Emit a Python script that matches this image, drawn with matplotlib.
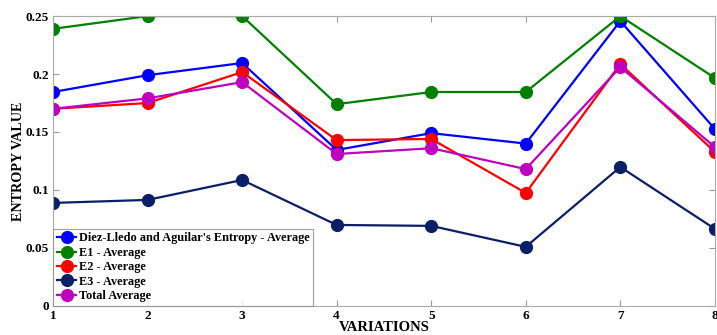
import matplotlib
matplotlib.use("Agg")
import matplotlib.pyplot as plt

variations = [1, 2, 3, 4, 5, 6, 7, 8]
diez_lledo = [0.1845, 0.199, 0.2095, 0.1345, 0.149, 0.140, 0.2457, 0.1526]
e1 = [0.239, 0.250, 0.250, 0.174, 0.1845, 0.1845, 0.250, 0.1966]
e2 = [0.170, 0.175, 0.2017, 0.143, 0.144, 0.0974, 0.2086, 0.1328]
e3 = [0.0888, 0.0914, 0.1086, 0.0698, 0.069, 0.0509, 0.1198, 0.0664]
total = [0.170, 0.179, 0.193, 0.131, 0.136, 0.118, 0.206, 0.137]

series = [
    ("Diez-Lledo and Aguilar's Entropy - Average", diez_lledo, "#0000ff"),
    ("E1 - Average", e1, "#008000"),
    ("E2 - Average", e2, "#ff0000"),
    ("E3 - Average", e3, "#0a1f66"),
    ("Total Average", total, "#c000c0"),
]

plt.rcParams["font.family"] = ["Liberation Serif", "DejaVu Serif"]
plt.rcParams["font.weight"] = "bold"

fig = plt.figure(figsize=(7.17, 3.35), dpi=100)
ax = fig.add_axes([0.074, 0.087, 0.923, 0.865])

for label, vals, col in series:
    ax.plot(variations, vals, "-o", color=col, lw=1.6, ms=8.5, label=label)

ax.set_xlim(1, 8)
ax.set_ylim(0, 0.25)
ax.set_xticks(variations)
ax.set_yticks([0, 0.05, 0.1, 0.15, 0.2, 0.25])
ax.set_yticklabels(["0", "0.05", "0.1", "0.15", "0.2", "0.25"])
ax.tick_params(direction="in", top=True, right=True, length=4, color="#999999",
               labelsize=9.5, pad=3)
for lbl in ax.get_xticklabels() + ax.get_yticklabels():
    lbl.set_fontweight("bold")
for s in ax.spines.values():
    s.set_color("#aaaaaa")
    s.set_linewidth(0.8)

ax.set_xlabel("VARIATIONS", fontsize=10.5, fontweight="bold")
ax.set_ylabel("ENTROPY VALUE", fontsize=10.2, fontweight="bold")
ax.xaxis.set_label_coords(0.5, -0.052)
ax.yaxis.set_label_coords(-0.043, 0.5)

leg = ax.legend(loc="lower left", frameon=True, fancybox=False,
                borderaxespad=0, handlelength=1.6, handletextpad=0.2,
                labelspacing=0.2, borderpad=0.3,
                prop={"weight": "bold", "size": 8.8})
leg.get_frame().set_edgecolor("#888888")
leg.get_frame().set_linewidth(0.8)

fig.savefig("out.png", dpi=100)
